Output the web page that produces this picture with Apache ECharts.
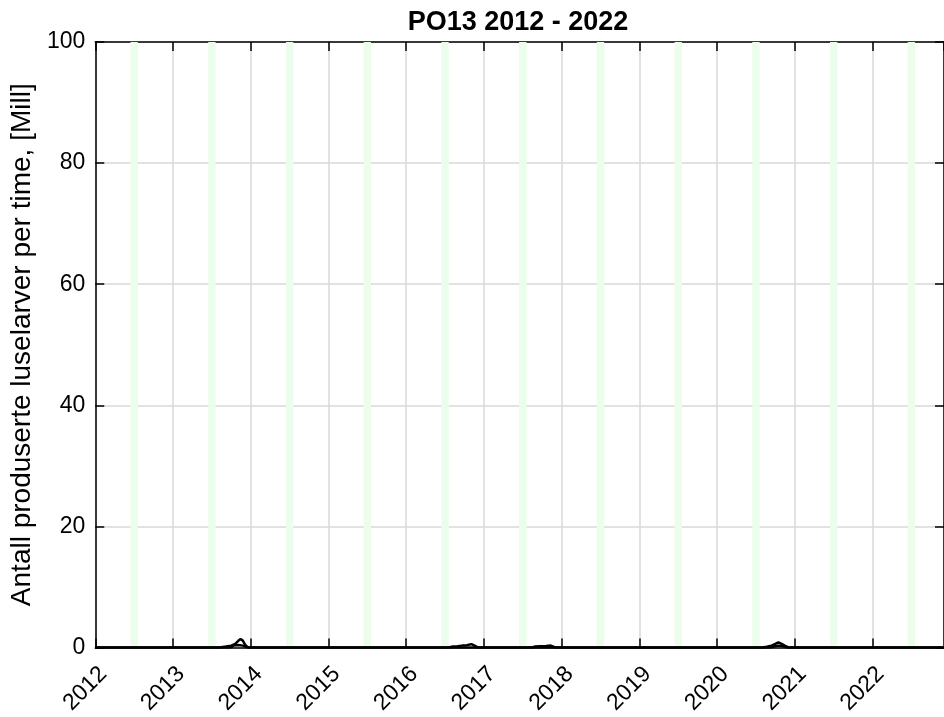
<!DOCTYPE html>
<html>
<head>
<meta charset="utf-8">
<script src="https://cdn.jsdelivr.net/npm/echarts@6/dist/echarts.min.js"></script>
<style>html,body{margin:0;padding:0;background:#fff}#c{width:944px;height:717px}</style>
</head>
<body>
<div id="c"></div>
<script>
const titleText = 'PO13 2012 - 2022';
const yName = 'Antall produserte luselarver per time, [Mill]';
const xMin = 2012, xMax = 2022.92;
const yTicks = [0, 20, 40, 60, 80, 100];
// green summer bands (decimal years)
const bandStart = [2012.453, 2013.453, 2014.453, 2015.453, 2016.453, 2017.453, 2018.453, 2019.453, 2020.453, 2021.453, 2022.453];
const bandEnd   = [2012.548, 2013.548, 2014.548, 2015.548, 2016.548, 2017.548, 2018.548, 2019.548, 2020.548, 2021.548, 2022.548];
// main line (decimal year, million)
const lineA_t = [2012.0, 2013.60, 2013.68, 2013.75, 2013.80, 2013.84, 2013.87, 2013.90, 2013.93, 2013.96, 2014.0,
                 2016.55, 2016.60, 2016.66, 2016.72, 2016.78, 2016.84, 2016.88, 2016.92,
                 2017.62, 2017.66, 2017.72, 2017.80, 2017.86, 2017.92,
                 2020.58, 2020.64, 2020.70, 2020.75, 2020.79, 2020.83, 2020.87, 2020.92, 2022.92];
const lineA_v = [0, 0, 0.15, 0.3, 0.6, 1.1, 1.4, 1.1, 0.4, 0.05, 0,
                 0, 0.15, 0.2, 0.3, 0.35, 0.55, 0.3, 0,
                 0, 0.15, 0.2, 0.25, 0.3, 0,
                 0, 0.1, 0.3, 0.6, 0.85, 0.6, 0.3, 0, 0];
// second line (forms the loops)
const lineB_t = [2012.0, 2013.74, 2013.78, 2013.84, 2013.90, 2013.95, 2014.0,
                 2020.70, 2020.74, 2020.79, 2020.85, 2020.90, 2022.92];
const lineB_v = [0, 0, 0.3, 0.4, 0.3, 0.05, 0,
                 0, 0.2, 0.3, 0.2, 0, 0];

const zip = (t, v) => t.map((x, i) => [x, v[i]]);
const font = 'Liberation Sans, Arial, Helvetica, sans-serif';

const chart = echarts.init(document.getElementById('c'), null, {renderer: 'canvas'});
const axisLineStyle = {color: '#000', width: 1.5};
chart.setOption({
  animation: false,
  title: {text: titleText, left: 513, top: 4, textAlign: 'center',
          textStyle: {fontFamily: font, fontSize: 27, fontWeight: 'bold', color: '#000'}},
  grid: {left: 93, top: 42, right: 0, bottom: 67},
  xAxis: [{
    type: 'value', min: xMin, max: xMax, interval: 1, position: 'bottom',
    axisLine: {show: true, lineStyle: axisLineStyle},
    axisTick: {show: true, inside: true, length: 9, lineStyle: axisLineStyle},
    axisLabel: {show: true, rotate: 45, align: 'right', verticalAlign: 'top', margin: 15,
                fontFamily: font, fontSize: 23, color: '#000', showMaxLabel: false,
                formatter: v => Number.isInteger(v) ? String(v) : ''},
    splitLine: {show: true, lineStyle: {color: '#d9d9d9', width: 1.5}}
  }, {
    type: 'value', min: xMin, max: xMax, interval: 1, position: 'top',
    axisLine: {show: true, onZero: false, lineStyle: axisLineStyle},
    axisTick: {show: true, inside: true, length: 9, lineStyle: axisLineStyle},
    axisLabel: {show: false}, splitLine: {show: false}
  }],
  yAxis: [{
    type: 'value', min: yTicks[0], max: yTicks[yTicks.length - 1], interval: 20, position: 'left',
    name: yName, nameLocation: 'middle', nameGap: 57, nameRotate: 90,
    nameTextStyle: {fontFamily: font, fontSize: 28, color: '#000'},
    axisLine: {show: true, lineStyle: axisLineStyle},
    axisTick: {show: true, inside: true, length: 9, lineStyle: axisLineStyle},
    axisLabel: {fontFamily: font, fontSize: 23, color: '#000', margin: 10},
    splitLine: {show: true, lineStyle: {color: '#d9d9d9', width: 1.5}}
  }, {
    type: 'value', min: yTicks[0], max: yTicks[yTicks.length - 1], interval: 20, position: 'right',
    axisLine: {show: true, onZero: false, lineStyle: axisLineStyle},
    axisTick: {show: true, inside: true, length: 9, lineStyle: axisLineStyle},
    axisLabel: {show: false}, splitLine: {show: false}
  }],
  series: [{
    type: 'line', name: 'bands', data: [], silent: true,
    markArea: {silent: true, itemStyle: {color: '#ebfdeb'},
               data: bandStart.map((s, i) => [{xAxis: s}, {xAxis: bandEnd[i]}])}
  }, {
    type: 'line', name: 'A', data: zip(lineA_t, lineA_v), showSymbol: false,
    lineStyle: {color: '#000', width: 2.5}, z: 5
  }, {
    type: 'line', name: 'B', data: zip(lineB_t, lineB_v), showSymbol: false,
    lineStyle: {color: '#000', width: 2.5}, z: 5
  }]
});
</script>
</body>
</html>
